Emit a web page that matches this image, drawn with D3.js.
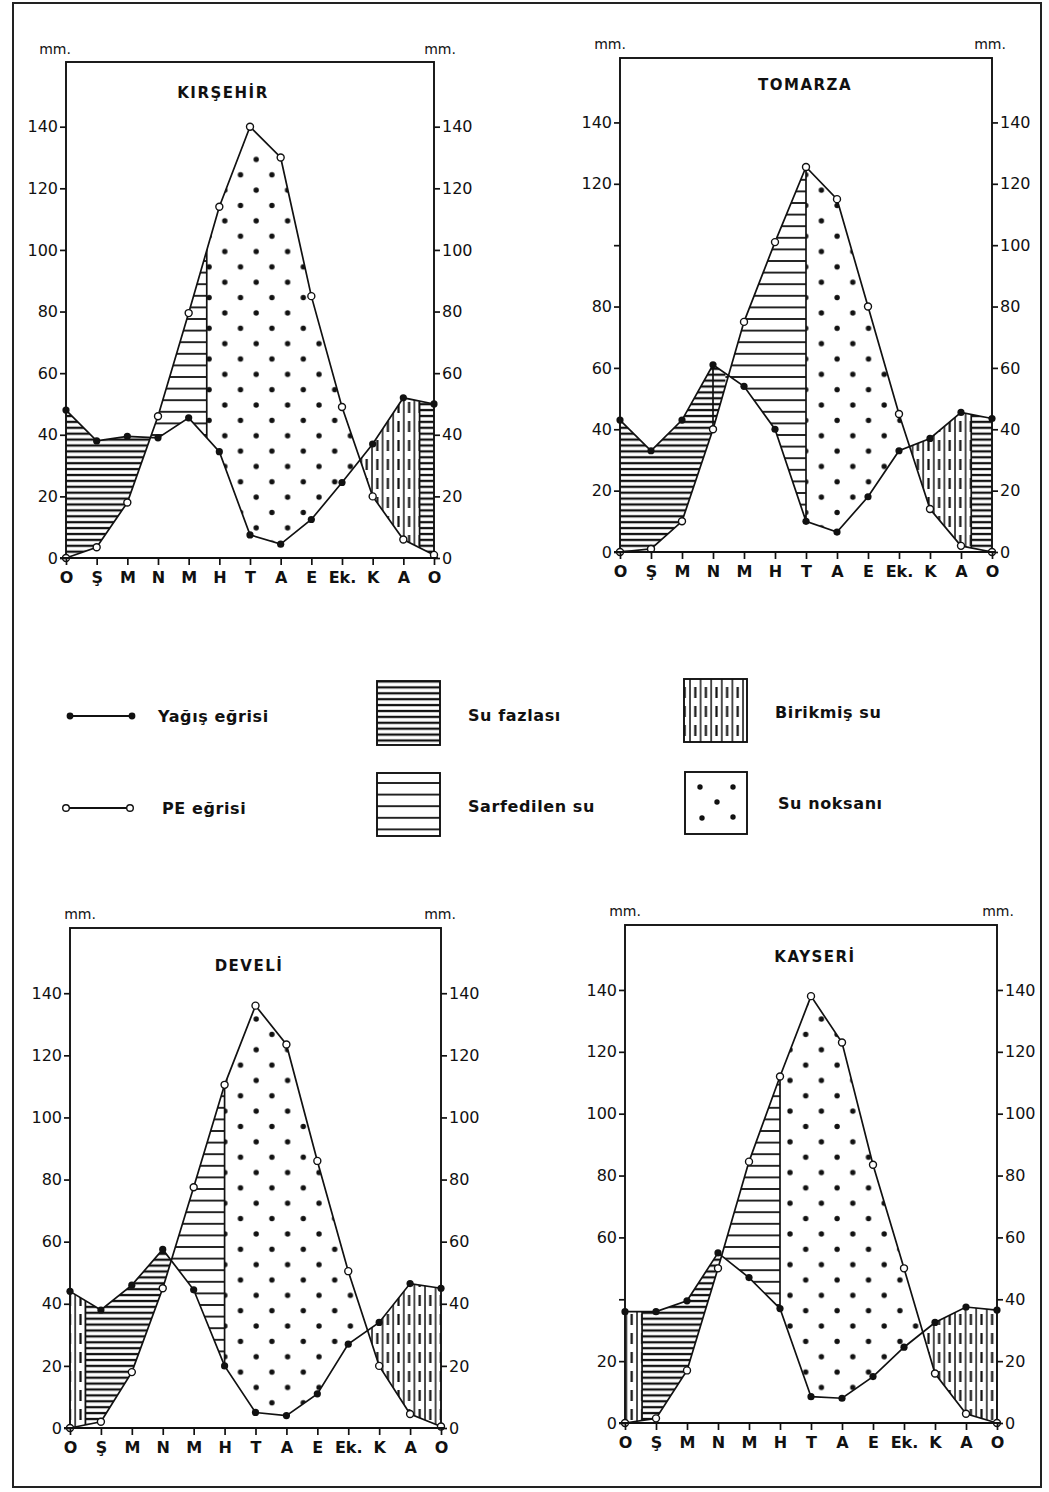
<!DOCTYPE html>
<html>
<head>
<meta charset="utf-8">
<script src="https://cdn.jsdelivr.net/npm/d3@7"></script>
<style>
  body { margin: 0; background: #ffffff; }
  svg text { font-family: 'DejaVu Sans', sans-serif; fill: #111; }
</style>
</head>
<body>
<div id="graph"></div>
<script>
// Months (Ocak ... Aralık, Ocak) and axis ticks
var months = [ 'O', 'Ş', 'M', 'N', 'M', 'H', 'T', 'A', 'E', 'Ek.', 'K', 'A', 'O' ];
var yTicks = [ 0, 20, 40, 60, 80, 100, 120, 140 ];

// Kırşehir : yağış (P) and potansiyel evapotranspirasyon (PE), mm
var kirsehirP  = [ 48, 38, 39.5, 39, 45.5, 34.5, 7.5, 4.5, 12.5, 24.5, 37, 52, 50 ];
var kirsehirPE = [ 0, 3.5, 18, 46, 79.5, 114, 140, 130, 85, 49, 20, 6, 1 ];

// Tomarza
var tomarzaP  = [ 43, 33, 43, 61, 54, 40, 10, 6.5, 18, 33, 37, 45.5, 43.5 ];
var tomarzaPE = [ 0, 1, 10, 40, 75, 101, 125.5, 115, 80, 45, 14, 2, 0 ];

// Develi
var develiP  = [ 44, 38, 46, 57.5, 44.5, 20, 5, 4, 11, 27, 34, 46.5, 45 ];
var develiPE = [ 0, 2, 18, 45, 77.5, 110.5, 136, 123.5, 86, 50.5, 20, 4.5, 0.5 ];

// Kayseri
var kayseriP  = [ 36, 36, 39.5, 55, 47, 37, 8.5, 8, 15, 24.5, 32.5, 37.5, 36.5 ];
var kayseriPE = [ 0, 1.5, 17, 50, 84.5, 112, 138, 123, 83.5, 50, 16, 3, 0 ];

// Water balance periods, as month positions (0 = O ... 12 = O)
var kirsehirFazla  = [ [0, 2.76], [11.53, 12] ];
var kirsehirSarf   = [ [2.76, 4.59] ];
var kirsehirNoksan = [ [4.59, 9.59] ];
var kirsehirBirik  = [ [9.59, 11.53] ];
var kirsehirSinir  = [ 4.59, 11.53 ];

var tomarzaFazla  = [ [0, 3.4], [11.33, 12] ];
var tomarzaSarf   = [ [3.4, 6] ];
var tomarzaNoksan = [ [6, 9.34] ];
var tomarzaBirik  = [ [9.34, 11.33] ];
var tomarzaSinir  = [ 3, 6, 11.33 ];

var develiFazla  = [ [0.5, 3.28] ];
var develiSarf   = [ [3.28, 5] ];
var develiNoksan = [ [5, 9.63] ];
var develiBirik  = [ [0, 0.5], [9.63, 12] ];
var develiSinir  = [ 0.5, 5 ];

var kayseriFazla  = [ [0.55, 3.12] ];
var kayseriSarf   = [ [3.12, 5] ];
var kayseriNoksan = [ [5, 9.6] ];
var kayseriBirik  = [ [0, 0.55], [9.6, 12] ];
var kayseriSinir  = [ 0.55, 5 ];

// Left-axis labels that were left out in the original
var tomarzaHidden = [ 100 ];
var kayseriHidden = [ 40 ];


function D3App ()
{
    var svg = d3.select ('#graph').append ('svg')
                .attr ('width', 1049)
                .attr ('height', 1492);

    var defs = svg.append ('defs');

    // Su fazlası : dense horizontal lines
    var p = defs.append ('pattern').attr ('id', 'fazla')
                .attr ('patternUnits', 'userSpaceOnUse')
                .attr ('width', 10).attr ('height', 5.9);
    p.append ('line').attr ('x1', 0).attr ('x2', 10).attr ('y1', 3).attr ('y2', 3)
     .attr ('stroke', '#111').attr ('stroke-width', 2.3);

    // Sarfedilen su : sparse horizontal lines
    p = defs.append ('pattern').attr ('id', 'sarf')
            .attr ('patternUnits', 'userSpaceOnUse')
            .attr ('width', 10).attr ('height', 11.6);
    p.append ('line').attr ('x1', 0).attr ('x2', 10).attr ('y1', 5.8).attr ('y2', 5.8)
     .attr ('stroke', '#111').attr ('stroke-width', 1.8);

    // Birikmiş su : vertical lines with dashed lines between
    p = defs.append ('pattern').attr ('id', 'birik')
            .attr ('patternUnits', 'userSpaceOnUse')
            .attr ('width', 10.6).attr ('height', 19);
    p.append ('line').attr ('x1', 1).attr ('x2', 1).attr ('y1', 0).attr ('y2', 19)
     .attr ('stroke', '#111').attr ('stroke-width', 1.5);
    p.append ('line').attr ('x1', 6.3).attr ('x2', 6.3).attr ('y1', 3).attr ('y2', 14)
     .attr ('stroke', '#111').attr ('stroke-width', 2.2);

    // Su noksanı : staggered dots
    p = defs.append ('pattern').attr ('id', 'noksan')
            .attr ('patternUnits', 'userSpaceOnUse')
            .attr ('width', 31.4).attr ('height', 30.7);
    p.append ('circle').attr ('cx', 5).attr ('cy', 6).attr ('r', 2.7).attr ('fill', '#111');
    p.append ('circle').attr ('cx', 20.7).attr ('cy', 21.35).attr ('r', 2.7).attr ('fill', '#111');

    // page frame
    svg.append ('rect')
       .attr ('x', 13).attr ('y', 3).attr ('width', 1028).attr ('height', 1484)
       .attr ('fill', 'none').attr ('stroke', '#222').attr ('stroke-width', 2);

    var panels = [
        { name: 'KIRŞEHİR', P: kirsehirP, PE: kirsehirPE,
          fazla: kirsehirFazla, sarf: kirsehirSarf, noksan: kirsehirNoksan, birik: kirsehirBirik,
          sinir: kirsehirSinir, hidden: [],
          left: 66, right: 434, top: 62, zero: 558,
          titleX: 223, titleY: 98, mmL: 55, mmR: 440, mmY: 54 },
        { name: 'TOMARZA', P: tomarzaP, PE: tomarzaPE,
          fazla: tomarzaFazla, sarf: tomarzaSarf, noksan: tomarzaNoksan, birik: tomarzaBirik,
          sinir: tomarzaSinir, hidden: tomarzaHidden,
          left: 620, right: 992, top: 58, zero: 552,
          titleX: 805, titleY: 90, mmL: 610, mmR: 990, mmY: 49 },
        { name: 'DEVELİ', P: develiP, PE: develiPE,
          fazla: develiFazla, sarf: develiSarf, noksan: develiNoksan, birik: develiBirik,
          sinir: develiSinir, hidden: [],
          left: 70, right: 441, top: 928, zero: 1428,
          titleX: 249, titleY: 971, mmL: 80, mmR: 440, mmY: 919 },
        { name: 'KAYSERİ', P: kayseriP, PE: kayseriPE,
          fazla: kayseriFazla, sarf: kayseriSarf, noksan: kayseriNoksan, birik: kayseriBirik,
          sinir: kayseriSinir, hidden: kayseriHidden,
          left: 625, right: 997, top: 925, zero: 1423,
          titleX: 815, titleY: 962, mmL: 625, mmR: 998, mmY: 916 }
    ];

    var yMax = 161;   // top of the frame, mm

    panels.forEach (function (d, k)
    {
        var xScale = d3.scaleLinear ()
                       .domain ([ 0, 12 ])
                       .range ([ d.left, d.right ]);

        var yScale = d3.scaleLinear ()
                       .domain ([ 0, yMax ])
                       .range ([ d.zero, d.top ]);

        var g = svg.append ('g');

        // frame
        g.append ('rect')
         .attr ('x', d.left).attr ('y', d.top)
         .attr ('width', d.right - d.left).attr ('height', d.zero - d.top)
         .attr ('fill', '#fff').attr ('stroke', '#111').attr ('stroke-width', 1.9);

        // region between the two curves, used as clip
        var area = d3.area ()
                     .x (function (v, i) { return xScale (i); })
                     .y0 (function (v, i) { return yScale (d.P[i]); })
                     .y1 (function (v, i) { return yScale (d.PE[i]); });

        defs.append ('clipPath').attr ('id', 'clip_' + k)
            .append ('path').attr ('d', area (d.P));

        var shade = g.append ('g').attr ('clip-path', 'url(#clip_' + k + ')');

        var addPeriods = function (list, pat)
        {
            shade.selectAll (null)
                 .data (list)
                 .enter ()
                 .append ('rect')
                 .attr ('x', function (r) { return xScale (r[0]); })
                 .attr ('width', function (r) { return xScale (r[1]) - xScale (r[0]); })
                 .attr ('y', yScale (yMax))
                 .attr ('height', yScale (0) - yScale (yMax))
                 .attr ('fill', 'url(#' + pat + ')');
        };

        addPeriods (d.fazla,  'fazla');
        addPeriods (d.sarf,   'sarf');
        addPeriods (d.noksan, 'noksan');
        addPeriods (d.birik,  'birik');

        // vertical borders between periods
        shade.selectAll ('line.sinir')
             .data (d.sinir)
             .enter ()
             .append ('line')
             .attr ('class', 'sinir')
             .attr ('x1', function (v) { return xScale (v); })
             .attr ('x2', function (v) { return xScale (v); })
             .attr ('y1', yScale (yMax))
             .attr ('y2', yScale (0))
             .attr ('stroke', '#111').attr ('stroke-width', 1.7);

        // curves
        var line = d3.line ()
                     .x (function (v, i) { return xScale (i); })
                     .y (function (v) { return yScale (v); });

        g.append ('path').attr ('d', line (d.PE))
         .attr ('fill', 'none').attr ('stroke', '#111').attr ('stroke-width', 1.7);
        g.append ('path').attr ('d', line (d.P))
         .attr ('fill', 'none').attr ('stroke', '#111').attr ('stroke-width', 1.7);

        g.selectAll ('circle.pe')
         .data (d.PE)
         .enter ()
         .append ('circle')
         .attr ('class', 'pe')
         .attr ('cx', function (v, i) { return xScale (i); })
         .attr ('cy', function (v) { return yScale (v); })
         .attr ('r', 3.5)
         .attr ('fill', '#fff').attr ('stroke', '#111').attr ('stroke-width', 1.4);

        g.selectAll ('circle.p')
         .data (d.P)
         .enter ()
         .append ('circle')
         .attr ('class', 'p')
         .attr ('cx', function (v, i) { return xScale (i); })
         .attr ('cy', function (v) { return yScale (v); })
         .attr ('r', 3.6)
         .attr ('fill', '#111');

        // axes
        var yLeft = d3.axisLeft (yScale)
                      .tickValues (yTicks)
                      .tickSize (6)
                      .tickPadding (2)
                      .tickFormat (function (v) { return d.hidden.indexOf (v) >= 0 ? '' : v; });

        var yRight = d3.axisRight (yScale)
                       .tickValues (yTicks)
                       .tickSize (6)
                       .tickPadding (2);

        var xAxis = d3.axisBottom (xScale)
                      .tickValues (d3.range (13))
                      .tickSize (7)
                      .tickPadding (7)
                      .tickFormat (function (v, i) { return months[i]; });

        var axL = g.append ('g').attr ('transform', 'translate(' + d.left + ',0)').call (yLeft);
        var axR = g.append ('g').attr ('transform', 'translate(' + d.right + ',0)').call (yRight);
        var axB = g.append ('g').attr ('transform', 'translate(0,' + d.zero + ')').call (xAxis);

        [ axL, axR, axB ].forEach (function (ax)
        {
            ax.select ('.domain').remove ();
            ax.selectAll ('line').attr ('stroke', '#111').attr ('stroke-width', 1.7);
            ax.selectAll ('text')
              .attr ('font-family', "'DejaVu Sans', sans-serif")
              .attr ('font-size', '16px')
              .attr ('fill', '#111');
        });

        axB.selectAll ('text').attr ('font-weight', 'bold');

        // base line
        g.append ('line')
         .attr ('x1', d.left - 6).attr ('x2', d.right + 4)
         .attr ('y1', d.zero).attr ('y2', d.zero)
         .attr ('stroke', '#111').attr ('stroke-width', 1.9);

        // labels
        g.append ('text')
         .attr ('x', d.titleX).attr ('y', d.titleY)
         .attr ('text-anchor', 'middle')
         .attr ('font-size', '15px')
         .attr ('font-weight', 'bold')
         .attr ('letter-spacing', '1.5px')
         .text (d.name);

        g.append ('text')
         .attr ('x', d.mmL).attr ('y', d.mmY)
         .attr ('text-anchor', 'middle')
         .attr ('font-size', '14px')
         .text ('mm.');

        g.append ('text')
         .attr ('x', d.mmR).attr ('y', d.mmY)
         .attr ('text-anchor', 'middle')
         .attr ('font-size', '14px')
         .text ('mm.');
    });


    //
    // Legend
    //
    var leg = svg.append ('g');

    var legText = function (x, y, str)
    {
        leg.append ('text')
           .attr ('x', x).attr ('y', y)
           .attr ('font-size', '16px')
           .attr ('font-weight', 'bold')
           .attr ('letter-spacing', '0.6px')
           .text (str);
    };

    // Yağış eğrisi
    leg.append ('line').attr ('x1', 70).attr ('x2', 132).attr ('y1', 716).attr ('y2', 716)
       .attr ('stroke', '#111').attr ('stroke-width', 1.8);
    [70, 132].forEach (function (x)
    {
        leg.append ('circle').attr ('cx', x).attr ('cy', 716).attr ('r', 3.4).attr ('fill', '#111');
    });
    legText (158, 722, 'Yağış eğrisi');

    // PE eğrisi
    leg.append ('line').attr ('x1', 66).attr ('x2', 130).attr ('y1', 808).attr ('y2', 808)
       .attr ('stroke', '#111').attr ('stroke-width', 1.8);
    [66, 130].forEach (function (x)
    {
        leg.append ('circle').attr ('cx', x).attr ('cy', 808).attr ('r', 3.3)
           .attr ('fill', '#fff').attr ('stroke', '#111').attr ('stroke-width', 1.4);
    });
    legText (162, 814, 'PE eğrisi');

    var legBox = function (x, y, w, h, pat)
    {
        leg.append ('rect')
           .attr ('x', x).attr ('y', y).attr ('width', w).attr ('height', h)
           .attr ('fill', pat ? 'url(#' + pat + ')' : '#fff')
           .attr ('stroke', '#111').attr ('stroke-width', 1.9);
    };

    legBox (377, 681, 63, 64, 'fazla');
    legText (468, 721, 'Su fazlası');

    legBox (377, 773, 63, 63, 'sarf');
    legText (468, 812, 'Sarfedilen su');

    legBox (684, 679, 63, 63, 'birik');
    legText (775, 718, 'Birikmiş su');

    legBox (685, 772, 62, 62, null);
    [ [700, 787], [733, 787], [717, 802], [702, 818], [733, 817] ].forEach (function (c)
    {
        leg.append ('circle').attr ('cx', c[0]).attr ('cy', c[1]).attr ('r', 2.7).attr ('fill', '#111');
    });
    legText (778, 809, 'Su noksanı');

} // D3App

D3App ();
</script>
</body>
</html>
